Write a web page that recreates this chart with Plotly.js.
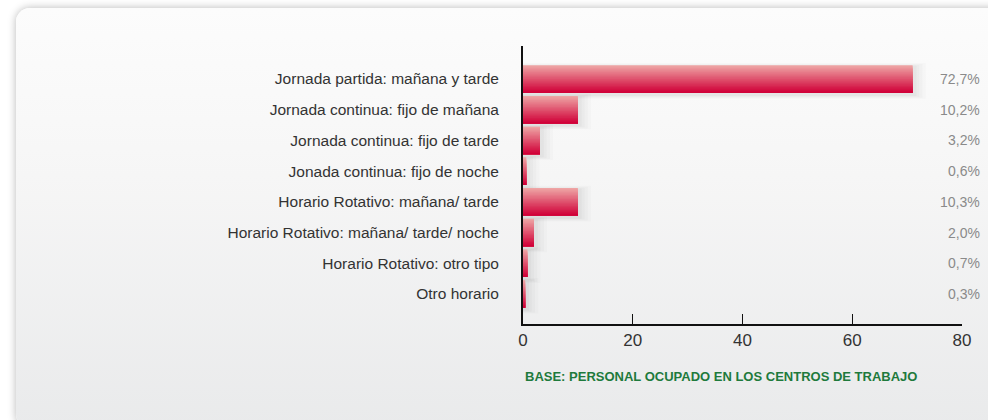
<!DOCTYPE html>
<html>
<head>
<meta charset="utf-8">
<script src="https://cdn.plot.ly/plotly-3.0.1.min.js"></script>
<style>
  html, body { margin:0; padding:0; width:988px; height:420px; overflow:hidden; background:#ffffff; }
  #card { position:absolute; left:16px; top:8px; width:1000px; height:420px; border-radius:14px;
          background:linear-gradient(#fcfcfc, #f6f6f6 40%, #e9eaeb);
          box-shadow:0 0 9px rgba(0,0,0,0.28); }
  #chart { position:absolute; left:0; top:0; width:988px; height:420px; }
</style>
</head>
<body>
<div id="card"></div>
<div id="chart"></div>
<script>
const categories = [
  "Jornada partida: mañana y tarde",
  "Jornada continua: fijo de mañana",
  "Jornada continua: fijo de tarde",
  "Jonada continua: fijo de noche",
  "Horario Rotativo: mañana/ tarde",
  "Horario Rotativo: mañana/ tarde/ noche",
  "Horario Rotativo: otro tipo",
  "Otro horario"
];
// bar lengths as drawn in the picture
const values = [71.0, 10.0, 3.1, 0.6, 10.0, 2.0, 0.8, 0.4];
// value labels as printed
const valueLabels = ["72,7%", "10,2%", "3,2%", "0,6%", "10,3%", "2,0%", "0,7%", "0,3%"];
const xTicks = [0, 20, 40, 60, 80];
const footer = "BASE: PERSONAL OCUPADO EN LOS CENTROS DE TRABAJO";

const traces = [];
// soft shadow layers (blur imitation)
const shadowLayers = [[2.4, 1.16, 0.018], [1.8, 1.10, 0.022], [1.2, 1.04, 0.026], [0.7, 0.98, 0.03]];
shadowLayers.forEach(([ext, w, a]) => {
  traces.push({
    type: 'bar', orientation: 'h', y: categories, x: values.map(v => v + ext),
    width: w, offset: -w / 2 + 0.06,
    marker: { color: 'rgba(60,60,60,' + a + ')', line: { width: 0 } },
    hoverinfo: 'skip', showlegend: false
  });
});
// gradient: overlapping layers, each covering from its start to the bar bottom
const N = 20, full = 0.9, sw = full / N;
const c0 = [238, 164, 164], c1 = [208, 0, 56];
for (let k = 0; k < N; k++) {
  const t = k / (N - 1);
  const c = c0.map((v, i) => Math.round(v + (c1[i] - v) * t));
  traces.push({
    type: 'bar', orientation: 'h', y: categories, x: values,
    width: full - k * sw, offset: -full / 2 + k * sw,
    marker: { color: 'rgb(' + c.join(',') + ')', line: { width: 0 } },
    hoverinfo: 'skip', showlegend: false
  });
}

const annotations = categories.map((c, i) => ({
  xref: 'paper', yref: 'y', x: 1.0456, y: c, xanchor: 'right', yanchor: 'middle',
  text: valueLabels[i], showarrow: false,
  font: { family: 'Liberation Sans, Arial, sans-serif', size: 14, color: '#8a8a8a' }
}));
annotations.push({
  xref: 'paper', yref: 'paper', x: 0, y: -0.19, xanchor: 'left', yanchor: 'middle',
  text: '<b>' + footer + '</b>', showarrow: false,
  font: { family: 'Liberation Sans Narrow, Liberation Sans, Arial, sans-serif', size: 13, color: '#1e7a3c' }
});

const layout = {
  width: 988, height: 420,
  margin: { l: 523, r: 26, t: 46, b: 96, pad: 0 },
  paper_bgcolor: 'rgba(0,0,0,0)', plot_bgcolor: 'rgba(0,0,0,0)',
  barmode: 'overlay', showlegend: false,
  xaxis: {
    range: [0, 80], tickvals: xTicks, ticktext: xTicks.map(String),
    showgrid: false, zeroline: false, showline: true, linecolor: '#111', linewidth: 1.5,
    ticks: 'inside', ticklen: 10, tickwidth: 1.2, tickcolor: '#111',
    tickfont: { family: 'Liberation Sans, Arial, sans-serif', size: 17, color: '#333' },
    fixedrange: true
  },
  yaxis: {
    type: 'category', range: [7.98, -1.075], showgrid: false, zeroline: false,
    showline: true, linecolor: '#111', linewidth: 2, ticks: '', ticklen: 0,
    ticklabelstandoff: 19,
    tickfont: { family: 'Liberation Sans, Arial, sans-serif', size: 15.5, color: '#333' },
    fixedrange: true
  },
  annotations: annotations
};

Plotly.newPlot('chart', traces, layout, { displayModeBar: false, staticPlot: true });
</script>
</body>
</html>
